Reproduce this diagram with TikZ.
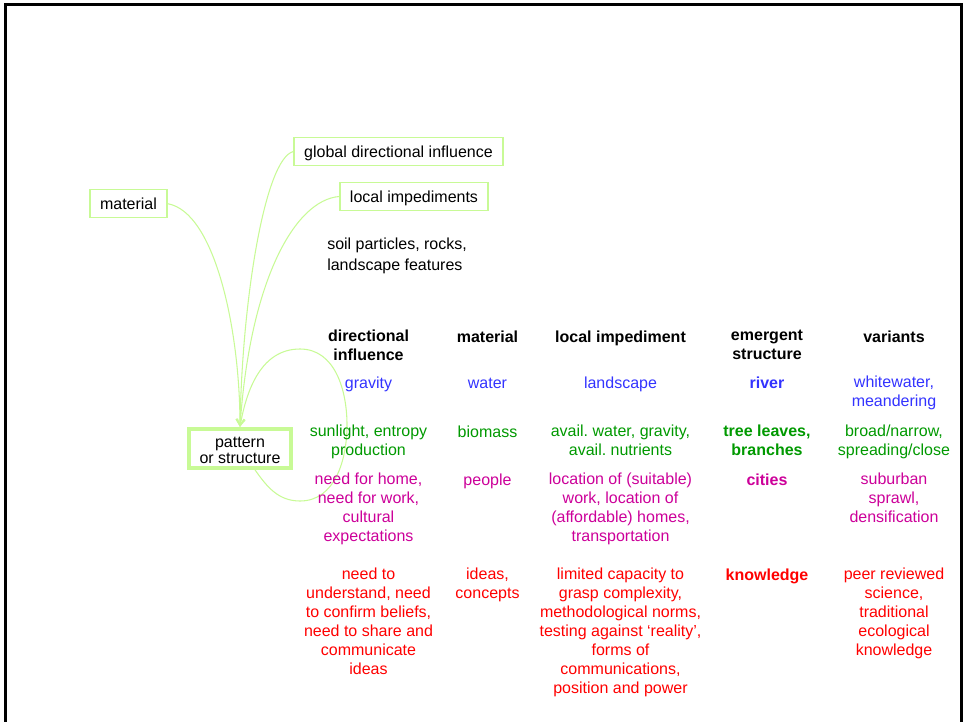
\documentclass[tikz,border=0pt]{standalone}
\usepackage{fontspec}
\setmainfont{Liberation Sans}
\usetikzlibrary{arrows.meta,calc}
\definecolor{lg}{RGB}{200,250,150}
\definecolor{cblue}{RGB}{51,51,255}
\definecolor{cgreen}{RGB}{0,153,0}
\definecolor{cmag}{RGB}{204,0,153}
\definecolor{cred}{RGB}{255,0,0}
\frenchspacing
\begin{document}
\begin{tikzpicture}[x=0.75pt,y=0.75pt,
  every node/.style={font=\fontsize{12}{14.25}\selectfont},
  box/.style={draw=lg, line width=1.1pt, inner xsep=7.5pt, inner ysep=0pt,
    minimum height=21pt, text height=10.5pt, text depth=1.6pt},
  bigbox/.style={draw=lg, line width=2.8pt, minimum width=76pt, minimum height=29.5pt,
    inner sep=0pt},
  cell/.style={anchor=north, yshift=4.25pt, inner sep=0pt, align=center,
    execute at begin node={\rule{0pt}{10pt}}},
  hd/.style={cell, font=\fontsize{12}{14.25}\selectfont\bfseries},
  bcell/.style={cell, font=\fontsize{12}{14.25}\selectfont\bfseries},
  conn/.style={draw=lg, line width=0.8pt, -{Straight Barb[length=5pt,width=6pt]}},
]
\useasboundingbox (0,0) rectangle (963,-721);
% frame
\draw[line width=2.25pt, line join=miter] (5,-730) -- (5,-4.5) -- (961.5,-4.5) -- (961.5,-730);

% boxes
\node[box] (material) at (128.5,-203.7) {material};
\node[box] (global) at (398.5,-151.5) {global directional influence};
\node[box] (local) at (414,-196.5) {local impediments};
\node[anchor=north west, inner sep=0pt, align=left, font=\fontsize{12}{15.75}\selectfont,
  yshift=4.25pt, execute at begin node={\rule{0pt}{10pt}}] (soil) at (327,-243)
  {soil particles, rocks,\\landscape features};
\node[bigbox] (pattern) at (240,-448.3) {};
\node[cell, font=\fontsize{12}{12}\selectfont] (ptext) at (240,-443) {pattern\\or structure};

% connectors
\draw[conn] (material.east) .. controls (215,-212) and (240,-330) .. (pattern.north);
\draw[conn] (global.west) .. controls (265,-158) and (242,-300) .. (pattern.north);
\draw[conn] (local.west) .. controls (295,-200) and (250,-280) .. (pattern.north);
\draw[conn] ($(pattern.south)+(15,0)$) to[out=-55,in=180] (300,-501)
  to[out=0,in=-90] (347,-425) to[out=90,in=0] (300,-349)
  to[out=180,in=80] (pattern.north);

% header
\node[hd] (h1) at (368.5,-335) {directional\\influence};
\node[hd] (h2) at (487.5,-335) {material};
\node[hd] (h3) at (620.5,-335) {local impediment};
\node[hd] (h4) at (767,-335) {emergent\\structure};
\node[hd] (h5) at (894,-335) {variants};

% row 1
\node[cell, text=cblue] (r1a) at (368.5,-381) {gravity};
\node[cell, text=cblue] (r1b) at (487.5,-381) {water};
\node[cell, text=cblue] (r1c) at (620.5,-381) {landscape};
\node[bcell, text=cblue] (r1d) at (767,-381) {river};
\node[cell, text=cblue] (r1e) at (894,-381) {whitewater,\\meandering};

% row 2
\node[cell, text=cgreen] (r2a) at (368.5,-430) {sunlight, entropy\\production};
\node[cell, text=cgreen] (r2b) at (487.5,-430) {biomass};
\node[cell, text=cgreen] (r2c) at (620.5,-430) {avail. water, gravity,\\avail. nutrients};
\node[bcell, text=cgreen] (r2d) at (767,-430) {tree leaves,\\branches};
\node[cell, text=cgreen] (r2e) at (894,-430) {broad/narrow,\\spreading/close};

% row 3
\node[cell, text=cmag] (r3a) at (368.5,-478) {need for home,\\need for work,\\cultural\\expectations};
\node[cell, text=cmag] (r3b) at (487.5,-478) {people};
\node[cell, text=cmag] (r3c) at (620.5,-478) {location of (suitable)\\work, location of\\(affordable) homes,\\transportation};
\node[bcell, text=cmag] (r3d) at (767,-478) {cities};
\node[cell, text=cmag] (r3e) at (894,-478) {suburban\\sprawl,\\densification};

% row 4
\node[cell, text=cred] (r4a) at (368.5,-573) {need to\\understand, need\\to confirm beliefs,\\need to share and\\communicate\\ideas};
\node[cell, text=cred] (r4b) at (487.5,-573) {ideas,\\concepts};
\node[cell, text=cred] (r4c) at (620.5,-573) {limited capacity to\\grasp complexity,\\methodological norms,\\testing against ‘reality’,\\forms of\\communications,\\position and power};
\node[bcell, text=cred] (r4d) at (767,-573) {knowledge};
\node[cell, text=cred] (r4e) at (894,-573) {peer reviewed\\science,\\traditional\\ecological\\knowledge};
\end{tikzpicture}
\end{document}
